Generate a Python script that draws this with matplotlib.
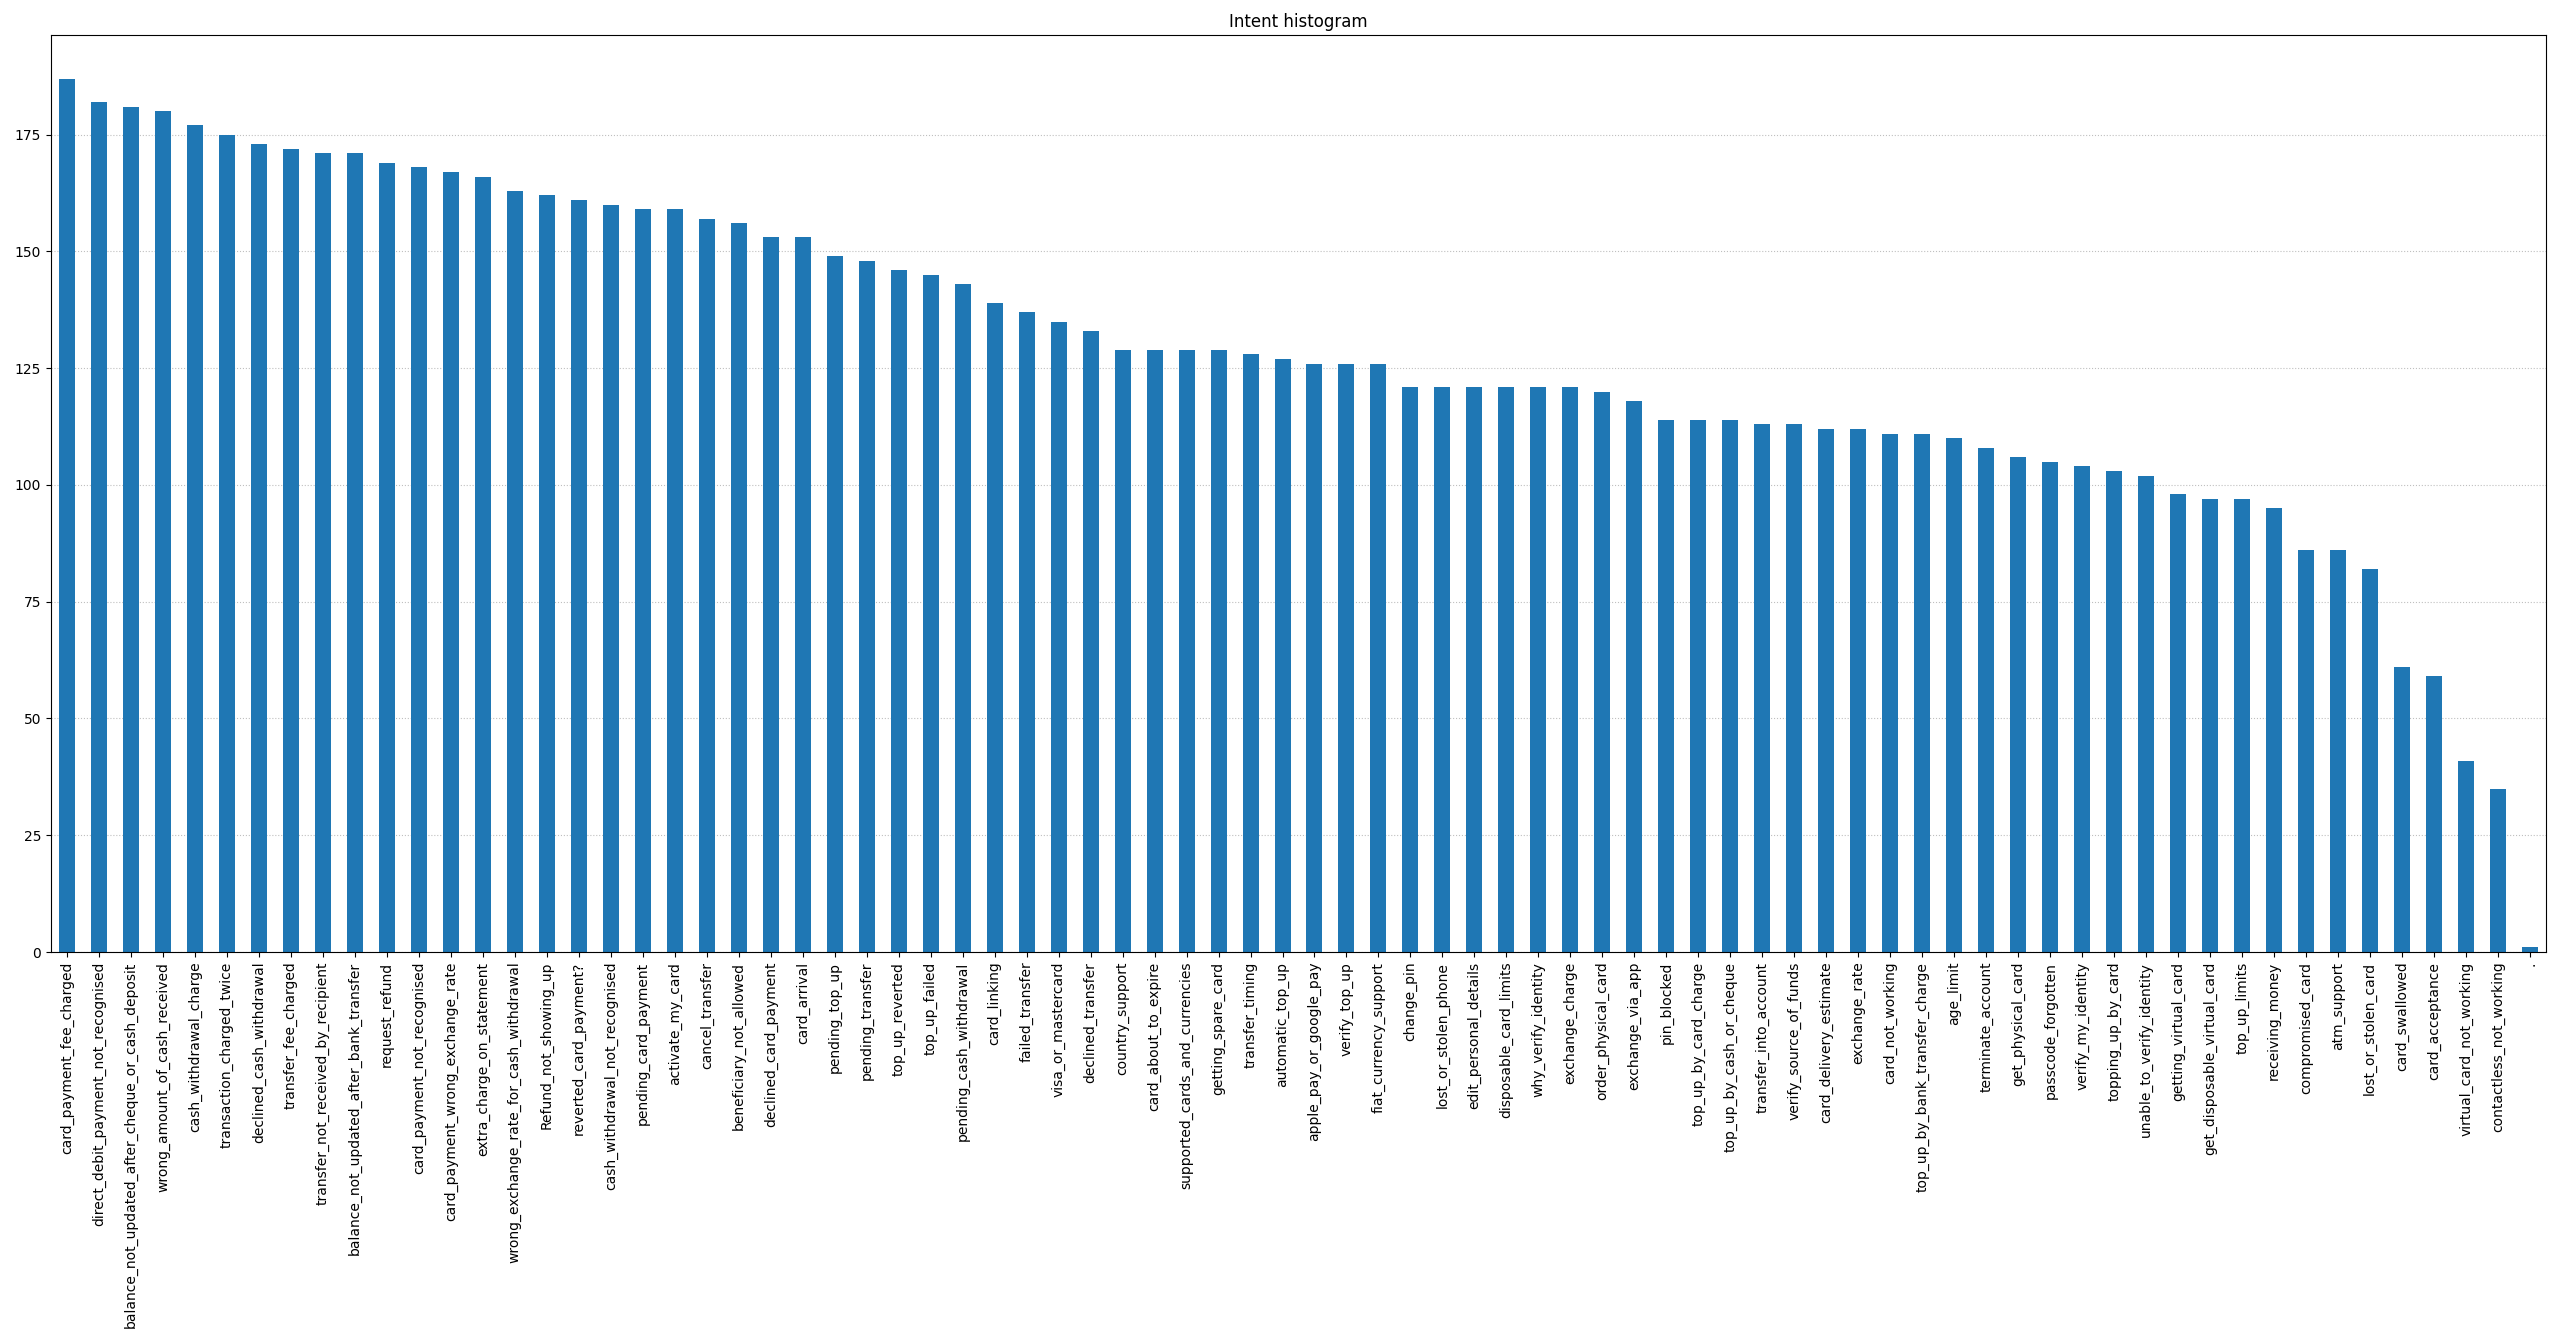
import matplotlib
matplotlib.use("Agg")
import matplotlib.pyplot as plt
import numpy as np

intents = [
    "card_payment_fee_charged", "direct_debit_payment_not_recognised",
    "balance_not_updated_after_cheque_or_cash_deposit", "wrong_amount_of_cash_received",
    "cash_withdrawal_charge", "transaction_charged_twice", "declined_cash_withdrawal",
    "transfer_fee_charged", "transfer_not_received_by_recipient",
    "balance_not_updated_after_bank_transfer", "request_refund",
    "card_payment_not_recognised", "card_payment_wrong_exchange_rate",
    "extra_charge_on_statement", "wrong_exchange_rate_for_cash_withdrawal",
    "Refund_not_showing_up", "reverted_card_payment?", "cash_withdrawal_not_recognised",
    "pending_card_payment", "activate_my_card", "cancel_transfer",
    "beneficiary_not_allowed", "declined_card_payment", "card_arrival",
    "pending_top_up", "pending_transfer", "top_up_reverted", "top_up_failed",
    "pending_cash_withdrawal", "card_linking", "failed_transfer",
    "visa_or_mastercard", "declined_transfer", "country_support",
    "card_about_to_expire", "supported_cards_and_currencies", "getting_spare_card",
    "transfer_timing", "automatic_top_up", "apple_pay_or_google_pay",
    "verify_top_up", "fiat_currency_support", "change_pin", "lost_or_stolen_phone",
    "edit_personal_details", "disposable_card_limits", "why_verify_identity",
    "exchange_charge", "order_physical_card", "exchange_via_app", "pin_blocked",
    "top_up_by_card_charge", "top_up_by_cash_or_cheque", "transfer_into_account",
    "verify_source_of_funds", "card_delivery_estimate", "exchange_rate",
    "card_not_working", "top_up_by_bank_transfer_charge", "age_limit",
    "terminate_account", "get_physical_card", "passcode_forgotten",
    "verify_my_identity", "topping_up_by_card", "unable_to_verify_identity",
    "getting_virtual_card", "get_disposable_virtual_card", "top_up_limits",
    "receiving_money", "compromised_card", "atm_support", "lost_or_stolen_card",
    "card_swallowed", "card_acceptance", "virtual_card_not_working",
    "contactless_not_working", ".",
]

counts = [
    187, 182, 181, 180, 177, 175, 173, 172, 171, 171,
    169, 168, 167, 166, 163, 162, 161, 160, 159, 159,
    157, 156, 153, 153, 149, 148, 146, 145, 143, 139,
    137, 135, 133, 129, 129, 129, 129, 128, 127, 126,
    126, 126, 121, 121, 121, 121, 121, 121, 120, 118,
    114, 114, 114, 113, 113, 112, 112, 111, 111, 110,
    108, 106, 105, 104, 103, 102, 98, 97, 97, 95,
    86, 86, 82, 61, 59, 41, 35, 1,
]

fig = plt.figure(figsize=(25.6, 13.43), dpi=100)
ax = fig.add_axes([51 / 2560, 1 - 952 / 1343, (2546 - 51) / 2560, (952 - 35) / 1343])

x = np.arange(len(intents))
ax.bar(x, counts, width=0.5, color="#1f77b4")
ax.set_xlim(-0.5, len(intents) - 0.5)
ax.set_ylim(0, max(counts) * 1.05)
ax.set_yticks(np.arange(0, 176, 25))
ax.set_xticks(x)
ax.set_xticklabels(intents, rotation=90)
ax.set_axisbelow(True)
ax.yaxis.grid(True, linestyle=":", color="#b0b0b0", alpha=0.8)
ax.set_title("Intent histogram")

fig.savefig("out.png", dpi=100)
